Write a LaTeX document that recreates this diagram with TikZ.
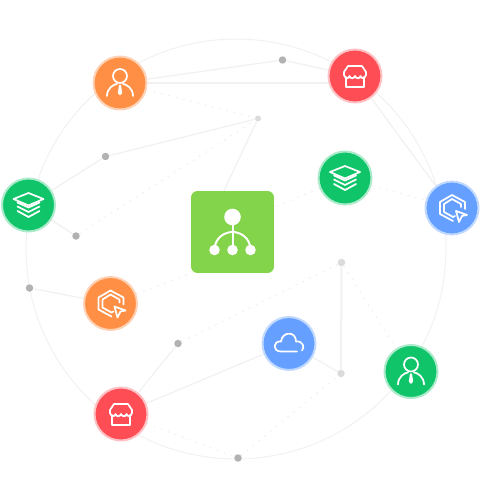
\documentclass[tikz,border=0pt]{standalone}
\usetikzlibrary{positioning,backgrounds}

\definecolor{hubgreen}{HTML}{83D34B}
\definecolor{iconorange}{HTML}{FF8F45}
\definecolor{iconred}{HTML}{FF4D55}
\definecolor{icongreen}{HTML}{10C469}
\definecolor{iconblue}{HTML}{659FFF}
\definecolor{linegray}{HTML}{F1F1F1}

\begin{document}
\begin{tikzpicture}[
		x=0.02cm, y=-0.02cm,
		badge/.style={circle, inner sep=0pt, minimum size=1.06cm, line width=0.04cm},
		orangebadge/.style={badge, fill=iconorange, draw=iconorange!40},
		redbadge/.style={badge, fill=iconred, draw=iconred!35},
		greenbadge/.style={badge, fill=icongreen, draw=icongreen!35},
		bluebadge/.style={badge, fill=iconblue, draw=iconblue!40},
		hubbox/.style={rectangle, rounded corners=0.13cm, fill=hubgreen, minimum width=1.66cm, minimum height=1.64cm},
		darkdot/.style={circle, inner sep=0pt, minimum size=0.15cm, fill=black!30},
		lightdot/.style={circle, inner sep=0pt, minimum size=0.15cm, fill=black!14},
		ring/.style={circle, draw=linegray, line width=0.02cm, inner sep=0pt, minimum size=8.4cm},
		solidlink/.style={draw=linegray, line width=0.025cm},
		dottedlink/.style={draw=black!6, line width=0.025cm, dash pattern=on 0.03cm off 0.12cm},
		iconline/.style={draw=white, line width=0.035cm, line join=round, line cap=round},
		personicon/.pic={
			\draw[iconline] (0,-7) circle (7);
			\draw[iconline] (-13,13) .. controls (-13,5) and (-6,1) .. (-3,1);
			\draw[iconline] (13,13) .. controls (13,5) and (6,1) .. (3,1);
			\fill[white] (-1,2) -- (1,2) -- (2.2,10) -- (0,12.5) -- (-2.2,10) -- cycle;
		},
		storeicon/.pic={
			\draw[iconline] (-9,1) -- (-9,11) -- (9,11) -- (9,1);
			\draw[iconline] (-11,-1) -- (-11,-4) -- (-7,-10) -- (7,-10) -- (11,-4) -- (11,-1)
				.. controls (10,3) and (6,3) .. (5.5,0)
				.. controls (5,3) and (1,3) .. (0,0)
				.. controls (-1,3) and (-5,3) .. (-5.5,0)
				.. controls (-6,3) and (-10,3) .. (-11,-1);
		},
		layersicon/.pic={
			\draw[iconline] (0,-12) -- (15,-6) -- (0,0.5) -- (-15,-6) -- cycle;
			\draw[iconline] (-11,-2.5) -- (0,2.5) -- (11,-2.5);
			\draw[iconline] (-11,1.5) -- (0,7) -- (11,1.5);
			\draw[iconline] (-11,6) -- (0,12) -- (11,6);
		},
		cursoricon/.pic={
			\draw[iconline] (13,1) -- (13,-6) -- (0,-13) -- (-12,-6) -- (-12,6) -- (1,13);
			\draw[iconline] (9,-1) -- (9,-4) -- (0,-9) -- (-8,-4) -- (-8,4) -- (1,9) -- (3,8);
			\draw[iconline] (4,3) -- (15,7) -- (10,8) -- (7,14) -- cycle;
		},
		cloudicon/.pic={
			\draw[iconline] (8,8) -- (-8,8)
				.. controls (-17,8) and (-16,-3) .. (-8,-2)
				.. controls (-7,-12) and (7,-13) .. (7,-2)
				.. controls (14,-3) and (16,4) .. (13,7);
		},
		hubicon/.pic={
			\fill[white] (0,-15) circle (8.3);
			\fill[white] (0,18) circle (5.3);
			\fill[white] (-18,18) circle (5.3);
			\fill[white] (18,18) circle (5.3);
			\draw[draw=white, line width=0.04cm] (0,-15) -- (0,18);
			\draw[draw=white, line width=0.04cm] (-18,18) .. controls (-18,6) and (-8,0) .. (0,0)
				.. controls (8,0) and (18,6) .. (18,18);
		}
		]
		\useasboundingbox (0,0) rectangle (481,500);

		% Centre box
		\node[hubbox] at (232.5,232) (hub) {};
		\pic at (hub) {hubicon};

		% Icon badges
		\node[orangebadge] at (120,83) (person1) {};
		\node[redbadge] at (355,76) (store1) {};
		\node[greenbadge] at (345,178) (layers1) {};
		\node[bluebadge] at (452,208) (cursor1) {};
		\node[greenbadge] at (28.5,205) (layers2) {};
		\node[orangebadge] at (110.5,303.5) (cursor2) {};
		\node[bluebadge] at (289,343.5) (cloud) {};
		\node[greenbadge] at (411,371.5) (person2) {};
		\node[redbadge] at (121,414) (store2) {};

		% Icons on the badges
		\pic at (person1) {personicon};
		\pic at (person2) {personicon};
		\pic at (store1) {storeicon};
		\pic at (store2) {storeicon};
		\pic at (layers1) {layersicon};
		\pic at (layers2) {layersicon};
		\pic at (cursor1) {cursoricon};
		\pic at (cursor2) {cursoricon};
		\pic at (cloud) {cloudicon};

		% Small dots
		\node[darkdot] at (282.5,60) (dota) {};
		\node[darkdot] at (105.5,156.5) (dotb) {};
		\node[darkdot] at (76,236) (dotc) {};
		\node[lightdot, minimum size=0.12cm] at (258,118.5) (dotd) {};
		\node[darkdot] at (29.5,288) (dote) {};
		\node[darkdot] at (178,343.5) (dotf) {};
		\node[darkdot] at (238,458) (dotg) {};
		\node[lightdot] at (341.5,262.5) (doth) {};
		\node[lightdot] at (341,373.5) (doti) {};

		\begin{scope}[on background layer]
			% Large ring
			\node[ring] at (236,249) (outer) {};

			% Solid links
			\draw[solidlink] (person1.east) -- (person1.east -| store1.center);
			\draw[solidlink] (person1) -- (dota);
			\draw[solidlink] (dota) -- (store1);
			\draw[solidlink] (store1) -- (cursor1);
			\draw[solidlink] (layers2) -- (dotb);
			\draw[solidlink] (dotb) -- (dotd);
			\draw[solidlink] (dotd) -- ([xshift=-0.17cm]hub.north);
			\draw[solidlink] (layers2) -- (dotc);
			\draw[solidlink] (dote) -- (cursor2);
			\draw[solidlink] (store2) -- (dotf);
			\draw[solidlink] (store2) -- (cloud);
			\draw[solidlink] (cloud) -- (doti);
			\draw[solidlink, line width=0.04cm] (doth) -- (doti);

			% Dotted links
			\draw[dottedlink] (person1) -- (dotd);
			\draw[dottedlink] (dotc) -- (dotd);
			\draw[dottedlink] (cursor2) -- (hub.south west);
			\draw[dottedlink] (layers1) -- ([yshift=0.5cm]hub.east);
			\draw[dottedlink] (layers1) -- (cursor1);
			\draw[dottedlink] (dotf) -- (doth);
			\draw[dottedlink] (doth) -- (person2);
			\draw[dottedlink] (store2) -- (dotg);
			\draw[dottedlink] (dotg) -- (doti);
		\end{scope}
	\end{tikzpicture}
\end{document}
